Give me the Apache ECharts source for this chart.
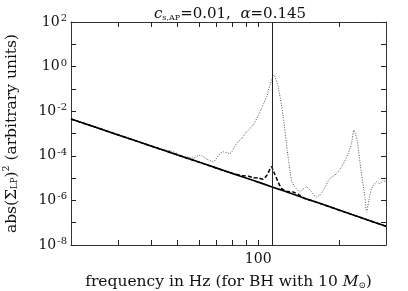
<!DOCTYPE html>
<html>
<head>
<meta charset="utf-8">
<script src="https://cdn.jsdelivr.net/npm/echarts@6/dist/echarts.min.js"></script>
<style>html,body{margin:0;padding:0;background:#fff}#c{width:408px;height:291px}</style>
</head>
<body>
<div id="c"></div>
<script>
// ---- data ----
const lineFreq = [20, 30, 40, 50, 60, 70, 80, 90, 100, 112, 125, 150, 175, 200, 250, 300];
const lineVals = [4.47e-3, 8.65e-4, 2.7e-4, 1.09e-4, 5.22e-5, 2.8e-5, 1.63e-5, 1.01e-5, 6.6e-6, 4.14e-6, 2.61e-6, 1.23e-6, 6.47e-7, 3.72e-7, 1.47e-7, 6.9e-8];

const dashFreq = [20, 40, 60, 80, 88, 92, 96, 100, 104, 108, 112, 115, 118, 122, 128, 135, 142, 150, 160, 175, 200, 250, 300];
const dashVals = [4.47e-3, 2.7e-4, 5.22e-5, 1.63e-5, 1.26e-5, 1.2e-5, 1.05e-5, 1.0e-5, 8.9e-6, 1.4e-5, 3.2e-5, 1.6e-5, 7.9e-6, 3.5e-6, 2.5e-6, 2.4e-6, 1.78e-6, 1.17e-6, 9.4e-7, 6.47e-7, 3.72e-7, 1.47e-7, 6.9e-8];

const dotFreq = [20, 25, 30, 35, 40, 44, 47, 50, 52.5, 55, 57.2, 60.6, 64.2, 67.9, 71, 74, 78.4, 83, 87, 90.5, 95.8, 100, 103, 107.5, 110.6, 114.4, 118.7, 124, 128.3, 133.2, 137.1, 143.1, 147, 151.6, 158.2, 165.1, 170, 174.8, 185.1, 196.1, 204.8, 216.7, 223.1, 227.5, 234.1, 241.1, 250.1, 254, 259, 264.9, 276.6, 284.6, 292.7, 300];
const dotVals = [4.47e-3, 1.91e-3, 8.7e-4, 4.68e-4, 2.75e-4, 1.91e-4, 1.66e-4, 1.26e-4, 9.3e-5, 8.7e-5, 7.9e-5, 1.07e-4, 7.1e-5, 5.4e-5, 1.0e-4, 1.51e-4, 1.26e-4, 3.55e-4, 6.3e-4, 1.2e-3, 2.4e-3, 6.3e-3, 1.35e-2, 4.47e-2, 0.151, 0.427, 0.126, 5.6e-3, 1.78e-4, 7.9e-6, 4.0e-6, 2.4e-6, 3.16e-6, 4.0e-6, 2.4e-6, 1.41e-6, 1.78e-6, 2.8e-6, 9.5e-6, 1.58e-5, 3.16e-5, 1.26e-4, 3.55e-4, 1.41e-3, 5.0e-4, 3.16e-5, 1.41e-6, 3.0e-7, 1.0e-6, 3.4e-6, 6.8e-6, 5.6e-6, 7.9e-6, 6.8e-6];

const markerFreq = 112.5;
const xTicks = [30, 40, 50, 60, 70, 80, 90, 100, 200];
const xLabels = [100];
const yTicks = [1e-8, 1e-7, 1e-6, 1e-5, 1e-4, 1e-3, 1e-2, 1e-1, 1, 10, 100];
const yLabels = [1e-8, 1e-6, 1e-4, 1e-2, 1, 100];
const titleParts = ['c', 's,AP', '=0.01,  ', 'α', '=0.145'];
const xName = 'frequency in Hz (for BH with 10 ';
const yNameParts = ['abs(Σ', 'LP', ')', '2', ' (arbitrary units)'];

// ---- chart ----
const FONT = 'DejaVu Serif';
const pairs = (xs, ys) => xs.map((x, i) => [x, ys[i]]);
const axisColor = '#333';
const txt = '#111';

function xAxisCfg(pos, showLabels) {
  return {
    type: 'log', logBase: 10, min: 20, max: 300, position: pos,
    axisLine: { show: true, lineStyle: { color: axisColor, width: 1 } },
    axisTick: { show: true, inside: true, length: 5, customValues: xTicks, lineStyle: { color: '#222' } },
    axisLabel: {
      show: showLabels, customValues: xLabels, color: txt, fontFamily: FONT, fontSize: 14, margin: 7,
      formatter: v => String(Math.round(v))
    },
    splitLine: { show: false }, minorTick: { show: false }
  };
}
function yAxisCfg(pos, showLabels) {
  return {
    type: 'log', logBase: 10, min: 1e-8, max: 100, position: pos,
    axisLine: { show: true, lineStyle: { color: axisColor, width: 1 } },
    axisTick: { show: true, inside: true, length: 5, customValues: yTicks, lineStyle: { color: '#222' } },
    axisLabel: {
      show: showLabels, customValues: yLabels, margin: 4,
      formatter: v => '{b|10}{s|' + Math.round(Math.log10(v)) + '}',
      rich: {
        b: { fontFamily: FONT, fontSize: 14, color: txt },
        s: { fontFamily: FONT, fontSize: 10, color: txt, padding: [0, 0, 7, 1] }
      }
    },
    splitLine: { show: false }
  };
}

const chart = echarts.init(document.getElementById('c'), null, { renderer: 'canvas' });
const xb = xAxisCfg('bottom', true);
xb.name = '{n|' + xName + '}{i|M}{sub|⊙}{n|)}';
xb.nameLocation = 'middle';
xb.nameGap = 29;
xb.nameTextStyle = {
  rich: {
    n: { fontFamily: FONT, fontSize: 15.5, color: txt },
    i: { fontFamily: FONT, fontStyle: 'italic', fontSize: 15.5, color: txt },
    sub: { fontFamily: FONT, fontSize: 8.5, color: txt, padding: [7, 0, 0, 0] }
  }
};
const yl = yAxisCfg('left', true);
yl.name = '{n|' + yNameParts[0] + '}{sub|' + yNameParts[1] + '}{n|' + yNameParts[2] + '}{sup|' + yNameParts[3] + '}{n|' + yNameParts[4] + '}';
yl.nameLocation = 'middle';
yl.nameGap = 50;
yl.nameRotate = 90;
yl.nameTextStyle = {
  rich: {
    n: { fontFamily: FONT, fontSize: 15.5, color: txt },
    sub: { fontFamily: FONT, fontSize: 8.5, color: txt, padding: [7, 0, 0, 0] },
    sup: { fontFamily: FONT, fontSize: 9.5, color: txt, padding: [0, 0, 9, 0] }
  }
};

chart.setOption({
  animation: false,
  backgroundColor: '#fff',
  title: {
    text: '{i|' + titleParts[0] + '}{sub|' + titleParts[1] + '}{n|' + titleParts[2] + '}{i|' + titleParts[3] + '}{n|' + titleParts[4] + '}',
    left: 225, top: 2, textAlign: 'center',
    textStyle: {
      rich: {
        n: { fontFamily: FONT, fontSize: 15, fontWeight: 'normal', color: txt },
        i: { fontFamily: FONT, fontStyle: 'italic', fontWeight: 'normal', fontSize: 15, color: txt },
        sub: { fontFamily: FONT, fontSize: 8, fontWeight: 'normal', color: txt, padding: [7, 0, 0, 0] }
      }
    }
  },
  grid: { left: 71, right: 22, top: 22, bottom: 46, containLabel: false, outerBoundsMode: 'none' },
  xAxis: [xb, xAxisCfg('top', false)],
  yAxis: [yl, yAxisCfg('right', false)],
  series: [
    {
      type: 'line', name: 'dotted', data: pairs(dotFreq, dotVals), showSymbol: false, smooth: 0.2,
      lineStyle: { color: '#555', width: 1, type: [1, 1.5] }, z: 2
    },
    {
      type: 'line', name: 'dashed', data: pairs(dashFreq, dashVals), showSymbol: false, smooth: 0.2,
      lineStyle: { color: '#000', width: 1.5, type: [4, 2] }, z: 3
    },
    {
      type: 'line', name: 'solid', data: pairs(lineFreq, lineVals), showSymbol: false, smooth: 0.2,
      lineStyle: { color: '#000', width: 1.6 }, z: 4,
      markLine: {
        silent: true, symbol: ['none', 'none'], label: { show: false },
        lineStyle: { color: '#222', width: 1, type: 'solid' },
        data: [{ xAxis: markerFreq }]
      }
    }
  ]
});
</script>
</body>
</html>
